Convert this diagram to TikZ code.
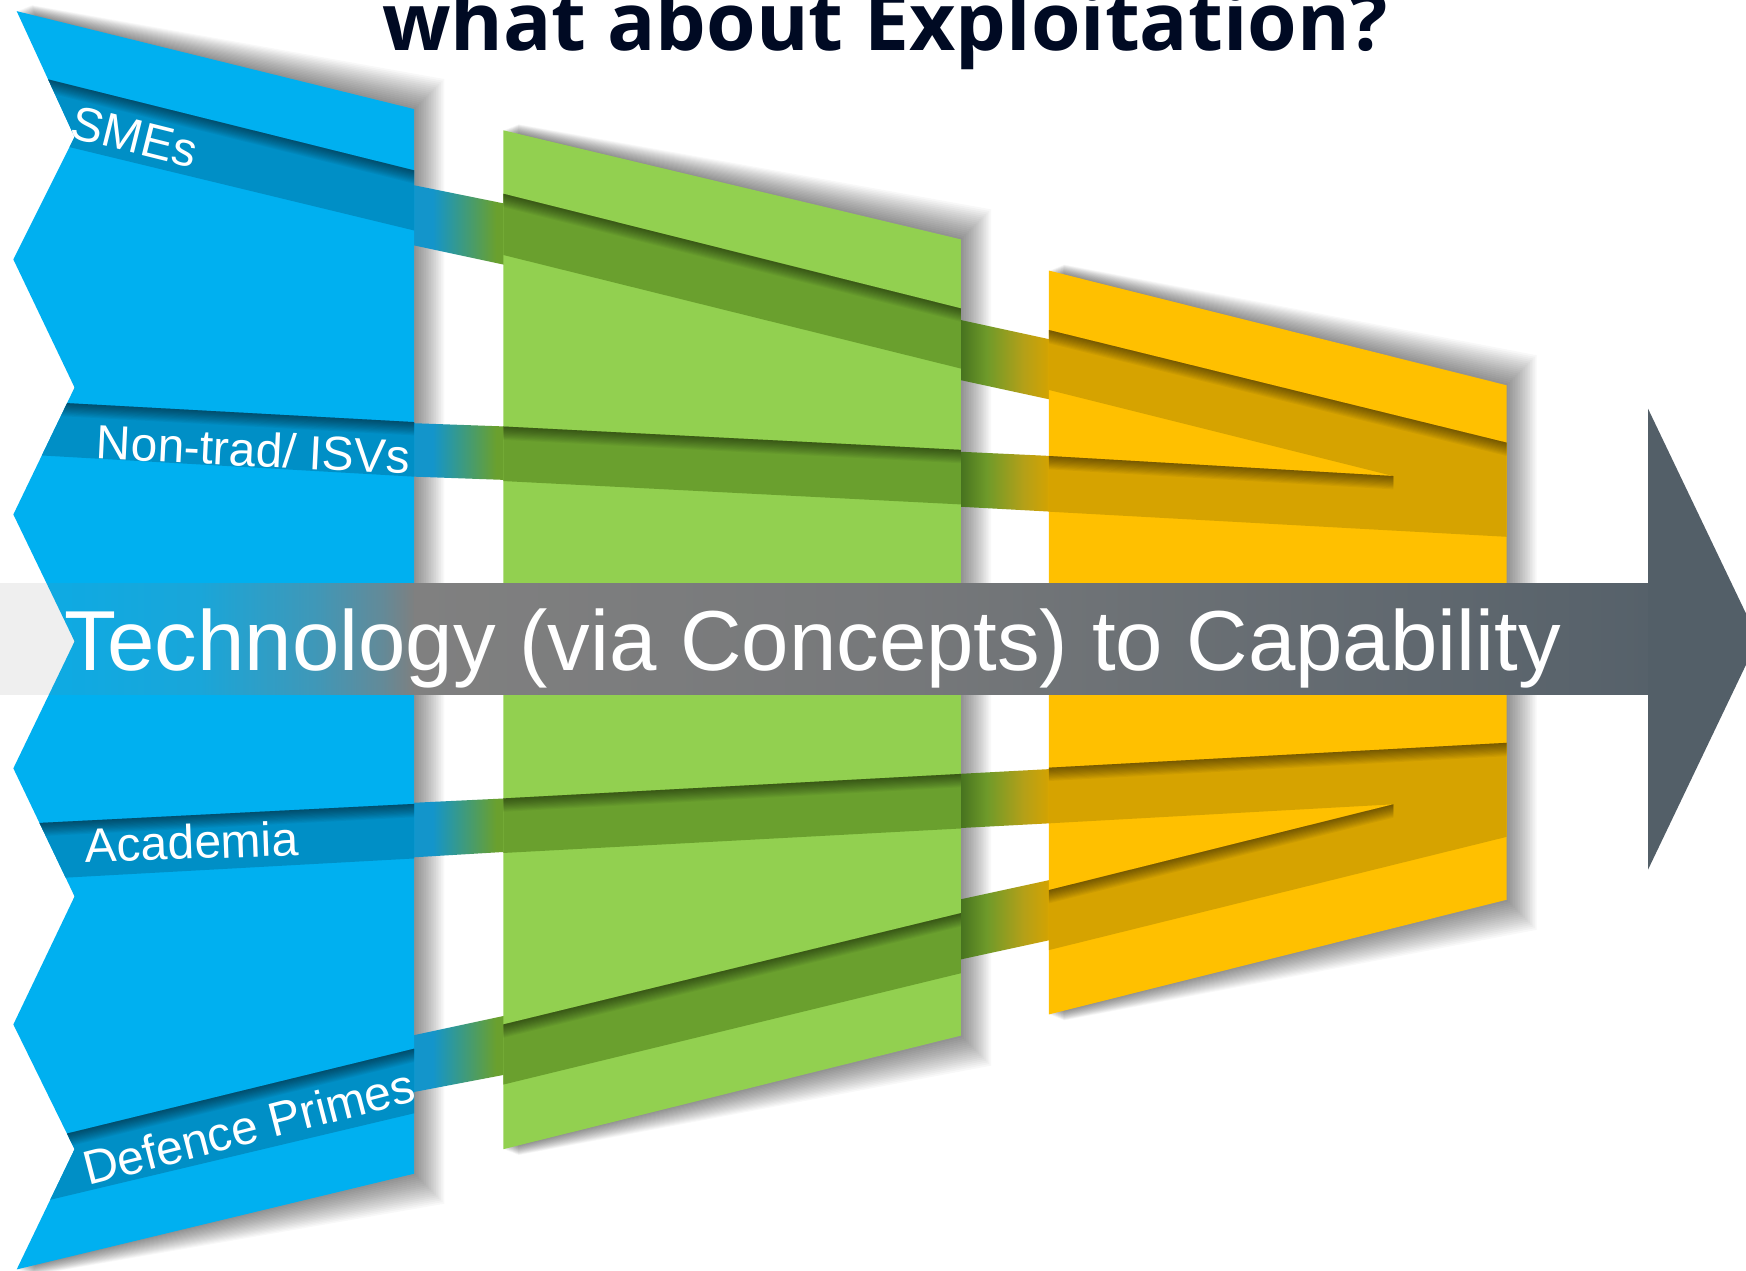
\documentclass[tikz,border=0pt]{standalone}
\usepackage{fontspec}
\setmainfont{Liberation Sans}
\newfontfamily\titlefont{Open Sans}
\usetikzlibrary{fadings}
\definecolor{blueP}{HTML}{00B0F0}
\definecolor{blueB}{HTML}{008FC6}
\definecolor{connBlue}{HTML}{1395CB}
\definecolor{greenP}{HTML}{92D050}
\definecolor{greenB}{HTML}{6AA02E}
\definecolor{yellowP}{HTML}{FFC000}
\definecolor{yellowB}{HTML}{D6A300}
\definecolor{gyA}{HTML}{44701E}
\definecolor{gyB}{HTML}{6E9A2A}
\definecolor{gyC}{HTML}{B4A018}
\definecolor{arA}{HTML}{808080}
\definecolor{arB}{HTML}{76787A}
\definecolor{arC}{HTML}{56616A}
\definecolor{arHead}{HTML}{535F68}
\definecolor{titleC}{HTML}{000A23}
\pgfdeclarehorizontalshading{bgconn}{100bp}{color(0bp)=(connBlue); color(25bp)=(connBlue); color(36bp)=(connBlue); color(70bp)=(greenB); color(100bp)=(greenB)}
\pgfdeclarehorizontalshading{gyconn}{100bp}{color(0bp)=(gyA); color(25bp)=(gyA); color(40bp)=(gyB); color(60bp)=(gyC); color(75bp)=(yellowB); color(100bp)=(yellowB)}
\pgfdeclarehorizontalshading{shaftsh}{100bp}{color(0bp)=(arA); color(25bp)=(arA); color(45bp)=(arB); color(75bp)=(arC); color(100bp)=(arC)}
\pgfdeclarehorizontalshading{fadesh}{100bp}{color(0bp)=(black!88); color(25bp)=(black!88); color(33bp)=(black!88); color(49bp)=(black!80); color(63bp)=(black!50); color(71bp)=(black!22); color(75bp)=(black!0); color(100bp)=(black!0)}
\pgfdeclarefading{arrowfade}{\pgfuseshading{fadesh}}
\tikzset{
  pshadow/.style={black, opacity=0.028},
  bshadow/.style={black, opacity=0.045},
  lab/.style={text=white, inner sep=0pt, font=\fontsize{43}{43}\selectfont, anchor=base west},
  maintext/.style={inner sep=0pt, font=\fontsize{76.5}{76.5}\selectfont, anchor=base west},
}
\newcommand\edgeshade[4]{\foreach \h in {1,2,...,12} {\fill[bshadow] (#1,#2) -- (#3,#4) -- (#3,#4+\h) -- (#1,#2+\h) -- cycle;}}
\def\bluepath{(15,10) -- (372,98) -- (372,1054) -- (15,1140) -- (67,1032) -- (12,920) -- (67,805) -- (12,690) -- (67,576) -- (12,462) -- (67,348) -- (12,233) -- (67,123) -- cycle}
\def\greenpath{(452,117) -- (863,215) -- (863,930) -- (452,1032) -- cycle}
\def\yellowpath{(942,243) -- (1353,346) -- (1353,808) -- (942,911) -- cycle}
\begin{document}
\begin{tikzpicture}[x=1pt,y=-1pt]
\useasboundingbox (0,0) rectangle (1568,1141);
\clip (0,0) rectangle (1568,1141);
\fill[white] (0,0) rectangle (1568,1141);
% panel shadows
\foreach \d in {1.5,3,...,27} {
  \fill[pshadow] (15+0.5*\d,10-0.2*\d) -- (372+\d,98-\d) -- (372+\d,1054+\d) -- (15+0.5*\d,1140+0.2*\d) -- (67,1032) -- (12+\d,920) -- (67,805) -- (12+\d,690) -- (67,576) -- (12+\d,462) -- (67,348) -- (12+\d,233) -- (67,123) -- cycle;
  \fill[pshadow] (452+0.5*\d,117-0.2*\d) -- (863+\d,215-\d) -- (863+\d,930+\d) -- (452+0.5*\d,1032+0.2*\d) -- cycle;
  \fill[pshadow] (942+0.5*\d,243-0.2*\d) -- (1353+\d,346-\d) -- (1353+\d,808+\d) -- (942+0.5*\d,911+0.2*\d) -- cycle;
}
% connectors blue -> green
\shade[shading=bgconn] (370,166) -- (454,183) -- (454,238) -- (370,220) -- cycle;
\shade[shading=bgconn] (370,380) -- (454,383) -- (454,431) -- (370,428) -- cycle;
\shade[shading=bgconn] (370,721) -- (454,717) -- (454,765) -- (370,770) -- cycle;
\shade[shading=bgconn] (370,930) -- (454,912) -- (454,965) -- (370,981) -- cycle;
% connectors green -> yellow
\shade[shading=gyconn] (861,287) -- (944,305) -- (944,359) -- (861,341) -- cycle;
\shade[shading=gyconn] (861,405.6) -- (944,409.5) -- (944,459.5) -- (861,455) -- cycle;
\shade[shading=gyconn] (861,695) -- (944,690.6) -- (944,739.3) -- (861,743.7) -- cycle;
\shade[shading=gyconn] (861,808) -- (944,790) -- (944,844) -- (861,862) -- cycle;
% panels
\fill[blueP] \bluepath;
\fill[greenP] \greenpath;
\fill[yellowP] \yellowpath;
% blue bands
\begin{scope}
  \clip \bluepath;
  \fill[blueB] (0,60.57) -- (380,154.99) -- (380,208.94) -- (0,117.0) -- cycle;
  \fill[blueB] (0,358.72) -- (380,379.49) -- (380,428.51) -- (0,406.90) -- cycle;
  \fill[blueB] (0,740.83) -- (380,721.54) -- (380,770.50) -- (0,791.41) -- cycle;
  \fill[blueB] (0,1032.66) -- (380,939.80) -- (380,997.86) -- (0,1088.17) -- cycle;
  \edgeshade{0}{60.57}{380}{154.99}
  \edgeshade{0}{358.72}{380}{379.49}
  \edgeshade{0}{740.83}{380}{721.54}
  \edgeshade{0}{1032.66}{380}{939.80}
\end{scope}
% green bands
\begin{scope}
  \clip \greenpath;
  \fill[greenB] (445,172.25) -- (870,278.75) -- (870,332.74) -- (445,227.26) -- cycle;
  \fill[greenB] (445,382.64) -- (870,404.36) -- (870,453.36) -- (445,431.64) -- cycle;
  \fill[greenB] (445,717.37) -- (870,694.63) -- (870,743.63) -- (445,766.37) -- cycle;
  \fill[greenB] (445,921.70) -- (870,818.30) -- (870,872.30) -- (445,975.70) -- cycle;
  \edgeshade{445}{172.25}{870}{278.75}
  \edgeshade{445}{382.64}{870}{404.36}
  \edgeshade{445}{717.37}{870}{694.63}
  \edgeshade{445}{921.70}{870}{818.30}
\end{scope}
% yellow bands
\begin{scope}
  \clip \yellowpath;
  \fill[yellowB] (935,294.68) -- (1360,399.22) -- (1360,482.44) -- (935,459.12) -- (935,409.09) -- (1251.3,427.5) -- (935,348.45) -- cycle;
  \fill[yellowB] (935,689.78) -- (1360,666.70) -- (1360,749.81) -- (935,854.93) -- (935,801.04) -- (1251.3,722.3) -- (935,739.79) -- cycle;
  \edgeshade{935}{294.68}{1360}{399.22}
  \edgeshade{935}{409.09}{1251.3}{427.5}
  \edgeshade{935}{689.78}{1360}{666.70}
  \edgeshade{935}{801.04}{1251.3}{722.3}
\end{scope}
% band labels
\node[lab, rotate=-14] (smes) at (61.5,123) {SMEs};
\node[lab, rotate=-2.8] (nontrad) at (86,412) {Non-trad/ ISVs};
\node[lab, rotate=2.1] (academia) at (77,775) {Academia};
\node[lab, rotate=14.5] (defence) at (79,1065) {Defence Primes};
% big arrow
\fill[arA, path fading=arrowfade] (0,524) rectangle (372.5,624);
\shade[shading=shaftsh] (372,524) rectangle (1481,624);
\fill[arHead] (1480,367) -- (1579,574) -- (1480,781) -- cycle;
\node[maintext, text=white] (main) at (58,602) {Technology (via Concepts) to Capability};
% title
\node[anchor=base, inner sep=0pt, text=titleC, font=\titlefont\bfseries\fontsize{72}{72}\selectfont] (title) at (795,45) {what about Exploitation?};
\end{tikzpicture}
\end{document}
